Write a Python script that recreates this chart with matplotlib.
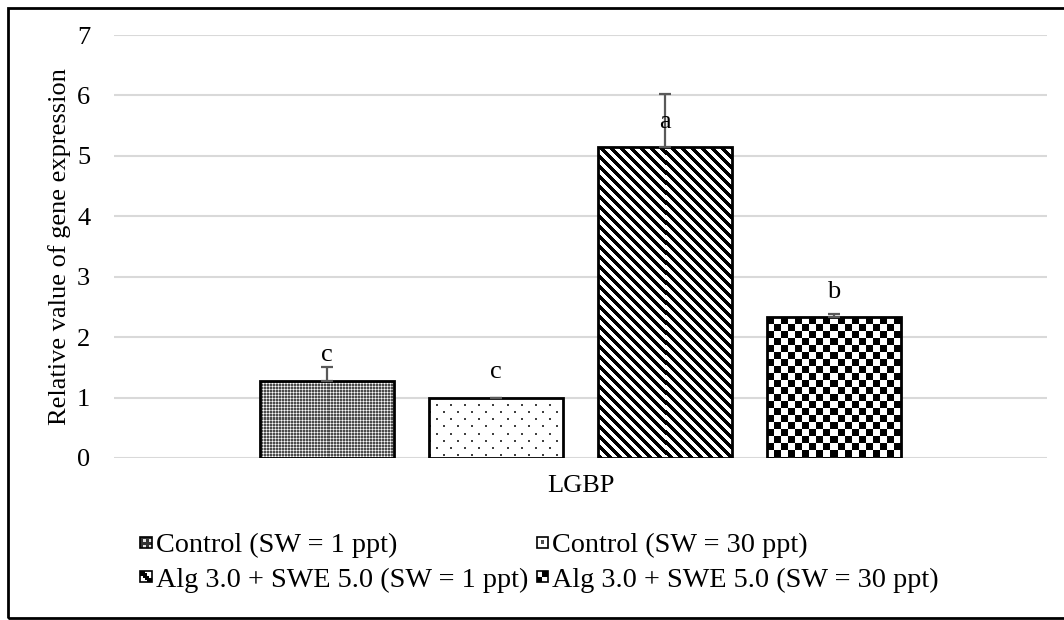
import matplotlib
matplotlib.use("Agg")
import matplotlib.pyplot as plt
import numpy as np
from matplotlib.patches import Rectangle, Patch
from matplotlib.legend_handler import HandlerBase

plt.rcParams["font.family"] = ["Liberation Serif", "DejaVu Serif"]

groups = ["Control (SW = 1 ppt)", "Control (SW = 30 ppt)",
          "Alg 3.0 + SWE 5.0 (SW = 1 ppt)", "Alg 3.0 + SWE 5.0 (SW = 30 ppt)"]
means = [1.28, 1.00, 5.14, 2.33]
errors = [0.23, 0.0, 0.89, 0.06]
letters = ["c", "c", "a", "b"]
gene = "LGBP"
yticks = [0, 1, 2, 3, 4, 5, 6, 7]

FS = 19


def pattern_tiles():
    # fine grey grid with white dots
    t1 = np.full((3, 3), 0.3)
    t1[0, :] = 0.7
    t1[:, 0] = 0.7
    t1[0, 0] = 1.0
    # sparse staggered dots
    t2 = np.ones((14, 14))
    t2[0:2, 0:2] = 0.25
    t2[7:9, 7:9] = 0.25
    # wide diagonal stripes
    i, j = np.indices((10, 10))
    t3 = np.where((j - i) % 10 < 5, 0.0, 1.0)
    # checkerboard
    t4 = np.ones((14, 14))
    t4[0:7, 0:7] = 0.0
    t4[7:, 7:] = 0.0
    return [t1, t2, t3, t4]


def icons():
    a = np.array([[0.2, 0.2, 0.2, 0.2], [0.2, 0.9, 0.2, 0.9],
                  [0.2, 0.2, 0.2, 0.2], [0.2, 0.9, 0.2, 0.9]])
    b = np.ones((3, 3)); b[1, 1] = 0.3
    c = np.array([[0, 0, 1, 1, 1], [0, 0, 0, 1, 1], [1, 0, 0, 0, 1],
                  [1, 1, 0, 0, 0], [1, 1, 1, 0, 0]], float)
    d = np.array([[1, 0], [0, 1]], float)
    return [a, b, c, d]


class IconHandler(HandlerBase):
    def __init__(self, icon):
        super().__init__()
        self.icon = icon

    def create_artists(self, legend, orig_handle, xdescent, ydescent,
                       width, height, fontsize, trans):
        ny, nx = self.icon.shape
        size = min(width, height)
        x0, y0 = -xdescent, -ydescent + (height - size) / 2
        arts = []
        for r in range(ny):
            for c in range(nx):
                v = self.icon[r, c]
                arts.append(Rectangle((x0 + c * size / nx, y0 + size - (r + 1) * size / ny),
                                      size / nx, size / ny, facecolor=str(v),
                                      edgecolor="none", transform=trans))
        arts.append(Rectangle((x0, y0), size, size, facecolor="none",
                              edgecolor="black", lw=1.2, transform=trans))
        return arts


fig = plt.figure(figsize=(10.64, 6.2), dpi=100)
ax = fig.add_axes([0.107, 0.2613, 0.877, 0.6822])

x = np.arange(len(means))
width = 0.793
bars = ax.bar(x, means, width, facecolor="none", edgecolor="black",
              linewidth=2, zorder=3)
ax.errorbar(x, means, yerr=[np.zeros(len(errors)), errors], fmt="none",
            ecolor="#595959", elinewidth=1.6, capsize=4, capthick=1.6, zorder=4)

ax.set_xlim(1.5 - 2.76, 1.5 + 2.76)
ax.set_ylim(0, 7)
ax.set_yticks(yticks)
ax.grid(axis="y", color="#d9d9d9", linewidth=1.5, zorder=0)
ax.set_axisbelow(True)
for s in ax.spines.values():
    s.set_visible(False)
ax.tick_params(axis="y", length=0, labelsize=FS, pad=17)
ax.set_xticks([1.5])
ax.set_xticklabels([gene])
ax.tick_params(axis="x", length=0, labelsize=FS, pad=12)
ax.set_ylabel("Relative value of gene expression", fontsize=FS, labelpad=4)

# fill each bar with its raster pattern, clipped to the bar outline
fig.canvas.draw()
for bar, tile in zip(bars, pattern_tiles()):
    bx, by, bw, bh = bar.get_x(), bar.get_y(), bar.get_width(), bar.get_height()
    (px0, py0), (px1, py1) = ax.transData.transform([(bx, by), (bx + bw, by + bh)])
    nx, ny = int(round(px1 - px0)), int(round(py1 - py0))
    th, tw = tile.shape
    img = np.tile(tile, (ny // th + 1, nx // tw + 1))[:ny, :nx]
    im = ax.imshow(img, cmap="gray", vmin=0, vmax=1, extent=(bx, bx + bw, by, by + bh),
                   interpolation="nearest", aspect="auto", zorder=2)
    im.set_clip_path(bar)
ax.set_xlim(1.5 - 2.76, 1.5 + 2.76)
ax.set_ylim(0, 7)

for xi, m, lab in zip(x, means, letters):
    ax.text(xi, m + 0.42, lab, ha="center", va="center", fontsize=FS, zorder=5)

handles = [Patch(label=g) for g in groups]
hmap = {h: IconHandler(ic) for h, ic in zip(handles, icons())}
order = [0, 2, 1, 3]
fig.legend([handles[i] for i in order], [groups[i] for i in order], handler_map=hmap,
           ncol=2, loc="upper left", bbox_to_anchor=(0.132, 0.14), frameon=False,
           fontsize=20.3, handlelength=0.4, handleheight=0.4, handletextpad=0.15,
           columnspacing=0.3, labelspacing=0.33, borderaxespad=0, borderpad=0)

# outer frame, open on the right where the image is cut
fig.patches.append(Rectangle((8 / 1064, 2 / 620), 1.0, 610 / 620,
                             transform=fig.transFigure, facecolor="none",
                             edgecolor="black", linewidth=2))

fig.savefig("out.png", dpi=100)
